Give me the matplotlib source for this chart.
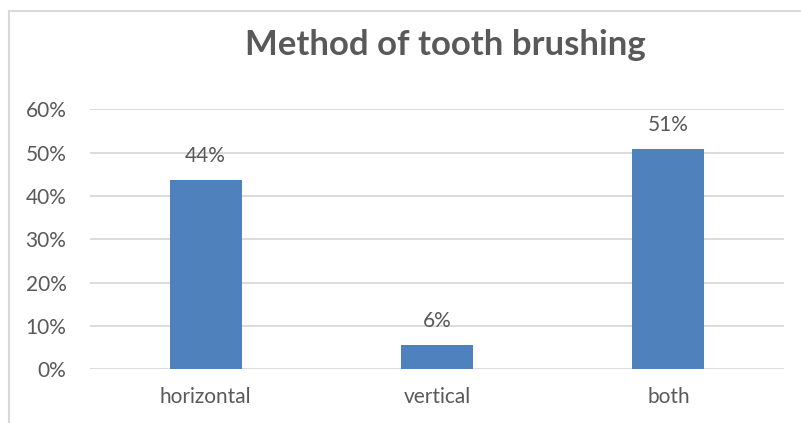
import matplotlib
matplotlib.use("Agg")
import matplotlib.pyplot as plt
from matplotlib.lines import Line2D
import numpy as np

categories = ["horizontal", "vertical", "both"]
shares = [0.437, 0.056, 0.508]
y_ticks = [0.0, 0.1, 0.2, 0.3, 0.4, 0.5, 0.6]

BAR = "#4F81BD"
TEXT = "#595959"
GRID = "#D9D9D9"

plt.rcParams["font.family"] = ["Lato", "DejaVu Sans"]

fig = plt.figure(figsize=(8.01, 4.23), dpi=100, facecolor="white")
W, H = 801, 423
ax = fig.add_axes([90 / W, 1 - 369.3 / H, (784 - 90) / W, (369.3 - 109.3) / H])

x = np.arange(len(categories))
ax.bar(x, shares, width=0.31, color=BAR, zorder=3)

for xi, v in zip(x, shares):
    ax.annotate(f"{v:.0%}", (xi, v), xytext=(0, 10), textcoords="offset points",
                ha="center", va="bottom", color=TEXT, fontsize=15)

ax.set_xlim(-0.5, 2.5)
ax.set_ylim(0, 0.6)
ax.set_yticks(y_ticks)
ax.set_yticklabels([f"{t:.0%}" for t in y_ticks])
ax.set_xticks(x)
ax.set_xticklabels(categories)
ax.tick_params(axis="both", length=0, colors=TEXT, labelsize=15)
ax.tick_params(axis="y", pad=17)
ax.tick_params(axis="x", pad=13)
ax.yaxis.grid(True, color=GRID, lw=1.3, zorder=0)
for s in ax.spines.values():
    s.set_visible(False)

fig.text(445 / W, 1 - 45 / H, "Method of tooth brushing", ha="center", va="center",
         color=TEXT, fontsize=25, fontweight="bold")

# chart frame (only top and left edges visible in the crop)
fig.add_artist(Line2D([9 / W, 1], [1 - 11 / H] * 2, color=GRID, lw=1.5,
                      transform=fig.transFigure))
fig.add_artist(Line2D([9 / W] * 2, [0, 1 - 11 / H], color=GRID, lw=1.5,
                      transform=fig.transFigure))

fig.savefig("out.png", dpi=100, facecolor="white")
